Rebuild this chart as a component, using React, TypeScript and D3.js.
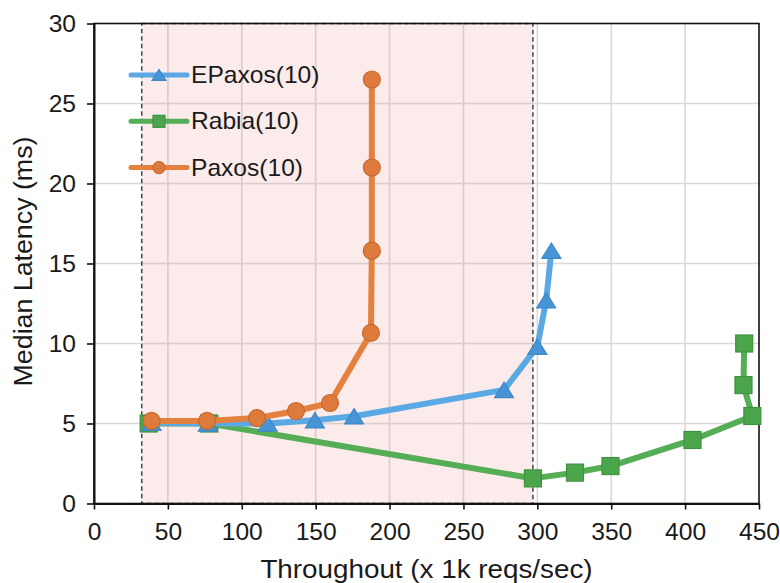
import React, { useEffect, useRef } from 'react';
import * as d3 from 'd3';

// throughput (x 1k reqs/sec) and median latency (ms)
const epaxosX = [39, 77, 117.5, 149.5, 176, 277.5, 300, 306, 309.5];
const epaxosY = [5.05, 5.0, 5.0, 5.2, 5.45, 7.1, 9.8, 12.7, 15.8];
const rabiaX = [37, 78, 297, 325.5, 349.5, 405, 445.5, 439.5, 440];
const rabiaY = [5.0, 5.0, 1.57, 1.93, 2.34, 3.97, 5.47, 7.4, 10.0];
const paxosX = [39, 76.5, 110.3, 136.7, 159.7, 187.4, 188, 188, 188];
const paxosY = [5.16, 5.16, 5.34, 5.78, 6.28, 10.66, 15.8, 21.0, 26.5];

const xTicks = [0, 50, 100, 150, 200, 250, 300, 350, 400, 450];
const yTicks = [0, 5, 10, 15, 20, 25, 30];
const shadeRange = [32.3, 297]; // highlighted throughput window

const seriesNames = ['EPaxos(10)', 'Rabia(10)', 'Paxos(10)'];

const FONT = '"Liberation Sans", Arial, Helvetica, sans-serif';
const STRETCH = 'scale(1.07,1)'; // text in the source is a bit wide

function App() {
    const ref = useRef<SVGSVGElement>(null);

    useEffect(() => {
        const svg = d3.select(ref.current);
        svg.selectAll('*').remove();

        const left = 94, right = 759, top = 23.5, bottom = 503.5;
        const x = d3.scaleLinear().domain([0, 450]).range([left, right]);
        const y = d3.scaleLinear().domain([0, 30]).range([bottom, top]);

        // grid
        const grid = svg.append('g');
        grid.selectAll('.gx').data(xTicks.slice(1, -1)).enter().append('line')
            .attr('x1', d => x(d)).attr('x2', d => x(d))
            .attr('y1', top).attr('y2', bottom)
            .attr('stroke', '#d9d9d9').attr('stroke-width', 1.6);
        grid.selectAll('.gy').data(yTicks.slice(1, -1)).enter().append('line')
            .attr('y1', d => y(d)).attr('y2', d => y(d))
            .attr('x1', left).attr('x2', right)
            .attr('stroke', '#d9d9d9').attr('stroke-width', 1.6);

        // shaded window
        svg.append('rect')
            .attr('x', x(shadeRange[0])).attr('y', y(30))
            .attr('width', x(shadeRange[1]) - x(shadeRange[0]))
            .attr('height', y(0) - y(30))
            .attr('fill', 'rgb(232,130,130)').attr('fill-opacity', 0.16)
            .attr('stroke', '#444').attr('stroke-width', 1.5)
            .attr('stroke-dasharray', '4.5,3');

        // frame
        svg.append('rect')
            .attr('x', left).attr('y', top)
            .attr('width', right - left).attr('height', bottom - top)
            .attr('fill', 'none').attr('stroke', '#111').attr('stroke-width', 1.6);

        // axes
        const xAxis = svg.append('g')
            .attr('transform', `translate(0,${bottom})`)
            .call(d3.axisBottom(x).tickValues(xTicks).tickSize(6).tickPadding(14).tickSizeOuter(0));
        const yAxis = svg.append('g')
            .attr('transform', `translate(${left},0)`)
            .call(d3.axisLeft(y).tickValues(yTicks).tickSize(7).tickPadding(11).tickSizeOuter(0));
        [xAxis, yAxis].forEach(a => {
            a.select('.domain').attr('stroke', '#111').attr('stroke-width', 2);
            a.selectAll('.tick line').attr('stroke', '#111').attr('stroke-width', 1.6);
            a.selectAll('.tick text')
                .attr('font-family', FONT).attr('font-size', 23).attr('fill', '#1a1a1a');
        });
        xAxis.selectAll('.tick text').attr('transform', STRETCH);
        yAxis.selectAll('.tick text').attr('dy', '0.35em')
            .attr('transform', 'translate(1.3,0) ' + STRETCH);

        const series = [
            { xs: rabiaX, ys: rabiaY, line: '#55ad55', fill: '#4ba54b', edge: '#3e9240', shape: 'square' },
            { xs: epaxosX, ys: epaxosY, line: '#5aa9e4', fill: '#4795d6', edge: '#3f88c8', shape: 'triangle' },
            { xs: paxosX, ys: paxosY, line: '#e5813f', fill: '#de7a3b', edge: '#c9692e', shape: 'circle' },
        ];

        const drawMarker = (g: any, cx: number, cy: number, s: any, size: number) => {
            if (s.shape === 'circle') {
                g.append('circle').attr('cx', cx).attr('cy', cy).attr('r', size / 2)
                    .attr('fill', s.fill).attr('stroke', s.edge).attr('stroke-width', 1.2);
            } else if (s.shape === 'square') {
                g.append('rect').attr('x', cx - size / 2).attr('y', cy - size / 2)
                    .attr('width', size).attr('height', size)
                    .attr('fill', s.fill).attr('stroke', s.edge).attr('stroke-width', 1.2);
            } else {
                const h = size * 0.9;
                g.append('path')
                    .attr('d', `M${cx},${cy - h / 2}L${cx + size / 2 + 1},${cy + h / 2}L${cx - size / 2 - 1},${cy + h / 2}Z`)
                    .attr('fill', s.fill).attr('stroke', s.edge).attr('stroke-width', 1.2);
            }
        };

        const line = d3.line<number>();
        series.forEach(s => {
            const pts: [number, number][] = s.xs.map((v, i) => [x(v), y(s.ys[i])]);
            const g = svg.append('g');
            g.append('path')
                .attr('d', line(pts as any))
                .attr('fill', 'none').attr('stroke', s.line)
                .attr('stroke-width', 6).attr('stroke-linejoin', 'round').attr('stroke-linecap', 'round');
            pts.forEach(p => drawMarker(g, p[0], p[1], s, 17));
        });

        // legend
        const legendOrder = [series[1], series[0], series[2]];
        legendOrder.forEach((s, i) => {
            const ly = 75 + i * 46.3;
            const g = svg.append('g');
            g.append('line').attr('x1', 131).attr('x2', 187).attr('y1', ly).attr('y2', ly)
                .attr('stroke', s.line).attr('stroke-width', 5).attr('stroke-linecap', 'round');
            drawMarker(g, 159, ly, s, 12);
            g.append('text').attr('transform', `translate(191,${ly + 8}) ${STRETCH}`)
                .attr('font-family', FONT).attr('font-size', 23).attr('fill', '#1a1a1a')
                .text(seriesNames[i]);
        });

        // axis titles
        svg.append('text')
            .attr('transform', `translate(${(left + right) / 2},578) ${STRETCH}`)
            .attr('text-anchor', 'middle')
            .attr('font-family', FONT).attr('font-size', 26).attr('fill', '#1a1a1a')
            .text('Throughout (x 1k reqs/sec)');
        svg.append('text')
            .attr('transform', `translate(32,${(top + bottom) / 2 - 2}) rotate(-90) scale(1.03,1)`)
            .attr('text-anchor', 'middle')
            .attr('font-family', FONT).attr('font-size', 26).attr('fill', '#1a1a1a')
            .text('Median Latency (ms)');
    });

    return <svg ref={ref} width={780} height={583} style={{ position: 'absolute', left: 0, top: 0 }}></svg>;
}

export default App;
